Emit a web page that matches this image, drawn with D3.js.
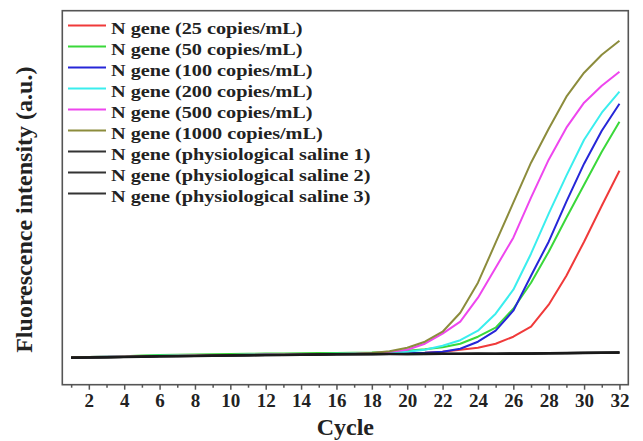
<!DOCTYPE html>
<html>
<head>
<meta charset="utf-8">
<script src="https://cdn.jsdelivr.net/npm/d3@7/dist/d3.min.js"></script>
<style>
  html, body { margin: 0; padding: 0; background: #fff; }
  svg { display: block; }
  text { font-family: "Liberation Serif", "Times New Roman", serif; font-weight: bold; fill: #222; }
</style>
</head>
<body>
<svg id="chart" width="643" height="441"></svg>
<script>
// ---- data ----
const cycles = d3.range(1, 33);
const xTickLabels = [2, 4, 6, 8, 10, 12, 14, 16, 18, 20, 22, 24, 26, 28, 30, 32];
const seriesNames = [
  "N gene (25 copies/mL)",
  "N gene (50 copies/mL)",
  "N gene (100 copies/mL)",
  "N gene (200 copies/mL)",
  "N gene (500 copies/mL)",
  "N gene (1000 copies/mL)",
  "N gene (physiological saline 1)",
  "N gene (physiological saline 2)",
  "N gene (physiological saline 3)"
];
const seriesColors = ["#f03a3a", "#3ad83a", "#2626d8", "#3aeeee", "#ee46ee", "#8c8c3c", "#1a1a1a", "#1a1a1a", "#1a1a1a"];

const n25 = [275, 277, 279, 282, 285, 288, 290, 292, 295, 297, 299, 301, 302, 304, 306, 308, 310, 312,
             314, 316, 320, 330, 350, 370, 410, 480, 580, 800, 1090, 1430, 1790, 2140];
const n50 = [276, 278, 281, 285, 292, 296, 299, 302, 305, 307, 309, 311, 313, 314, 316, 318, 320, 322,
             328, 340, 355, 375, 410, 480, 570, 760, 1020, 1330, 1670, 2000, 2330, 2630];
const n100 = [272, 274, 277, 280, 283, 286, 288, 290, 293, 295, 297, 299, 300, 302, 304, 306, 308, 310,
              312, 314, 320, 330, 360, 430, 540, 740, 1090, 1430, 1830, 2210, 2540, 2810];
const n200 = [276, 278, 280, 283, 286, 289, 291, 293, 296, 298, 300, 302, 303, 305, 307, 309, 311, 313,
              318, 330, 350, 390, 445, 540, 710, 950, 1310, 1710, 2090, 2450, 2720, 2930];
const n500 = [275, 277, 279, 282, 285, 288, 290, 292, 295, 297, 299, 301, 302, 304, 306, 308, 310, 314,
              330, 350, 410, 510, 630, 870, 1170, 1470, 1870, 2250, 2570, 2820, 2990, 3130];
const n1000 = [274, 276, 278, 281, 284, 287, 289, 291, 294, 296, 298, 300, 301, 303, 305, 307, 310, 316,
               335, 370, 430, 530, 720, 1020, 1420, 1820, 2220, 2560, 2880, 3120, 3300, 3440];
const saline1 = [270, 272, 274, 277, 280, 283, 285, 287, 290, 292, 294, 296, 297, 299, 301, 303, 305, 306,
                 307, 306, 308, 309, 308, 310, 309, 312, 311, 314, 316, 318, 320, 321];
const saline2 = [268, 271, 273, 276, 279, 282, 284, 286, 289, 291, 293, 295, 296, 298, 300, 302, 303, 304,
                 305, 305, 306, 307, 307, 308, 308, 309, 310, 312, 314, 316, 318, 320];
const saline3 = [272, 274, 276, 279, 282, 285, 287, 289, 292, 294, 296, 298, 299, 301, 303, 305, 306, 308,
                 309, 308, 310, 311, 310, 312, 311, 313, 313, 315, 318, 320, 322, 324];

const allSeries = [n25, n50, n100, n200, n500, n1000, saline1, saline2, saline3];

// ---- layout ----
const svg = d3.select("#chart");
const L = 62.3, R = 628.3, T = 10.7, B = 384.7;

const x = d3.scaleLinear().domain([0.5, 32.5]).range([L, R]);
const y = d3.scaleLinear().domain([0, 3740]).range([B, T]);

// lines
const line = d3.line().x((d, i) => x(cycles[i])).y(d => y(d)).curve(d3.curveLinear);
const g = svg.append("g");
allSeries.forEach((s, k) => {
  g.append("path")
    .attr("d", line(s))
    .attr("fill", "none")
    .attr("stroke", seriesColors[k])
    .attr("stroke-width", k >= 6 ? 2.2 : 2)
    .attr("stroke-linejoin", "round");
});

// frame
svg.append("rect")
  .attr("x", L).attr("y", T).attr("width", R - L).attr("height", B - T)
  .attr("fill", "none").attr("stroke", "#555").attr("stroke-width", 1.6);

// x axis (major ticks with labels)
const xAxis = d3.axisBottom(x).tickValues(xTickLabels).tickSize(5).tickSizeOuter(0)
  .tickPadding(4).tickFormat(d3.format("d"));
const ax = svg.append("g").attr("transform", `translate(0,${B})`).call(xAxis);
ax.select(".domain").remove();
ax.selectAll(".tick line").attr("stroke", "#555").attr("stroke-width", 1.5);
ax.selectAll(".tick text").attr("font-size", 19).attr("fill", "#222")
  .style("font-family", '"Liberation Serif", "Times New Roman", serif').style("font-weight", "bold");

// minor ticks
const minorAxis = d3.axisBottom(x).tickValues(cycles.filter(c => c % 2 === 1)).tickSize(3).tickSizeOuter(0).tickFormat("");
const mx = svg.append("g").attr("transform", `translate(0,${B})`).call(minorAxis);
mx.select(".domain").remove();
mx.selectAll(".tick line").attr("stroke", "#555").attr("stroke-width", 1.5);

// axis titles
svg.append("text").attr("x", (L + R) / 2).attr("y", 435).attr("text-anchor", "middle")
  .attr("font-size", 24).text("Cycle");
svg.append("text").attr("transform", `translate(32,${(T + B) / 2 + 12}) rotate(-90)`)
  .attr("text-anchor", "middle").attr("font-size", 24).text("Fluorescence intensity (a.u.)");

// legend
const leg = svg.append("g");
seriesNames.forEach((name, k) => {
  const ly = 25.5 + k * 21;
  leg.append("line").attr("x1", 68).attr("x2", 106).attr("y1", ly).attr("y2", ly)
    .attr("stroke", k >= 6 ? "#333" : seriesColors[k]).attr("stroke-width", 2);
  leg.append("text").attr("transform", `translate(111,${ly + 8}) scale(1.19,1)`)
    .attr("font-size", 17).text(name);
});
</script>
</body>
</html>
